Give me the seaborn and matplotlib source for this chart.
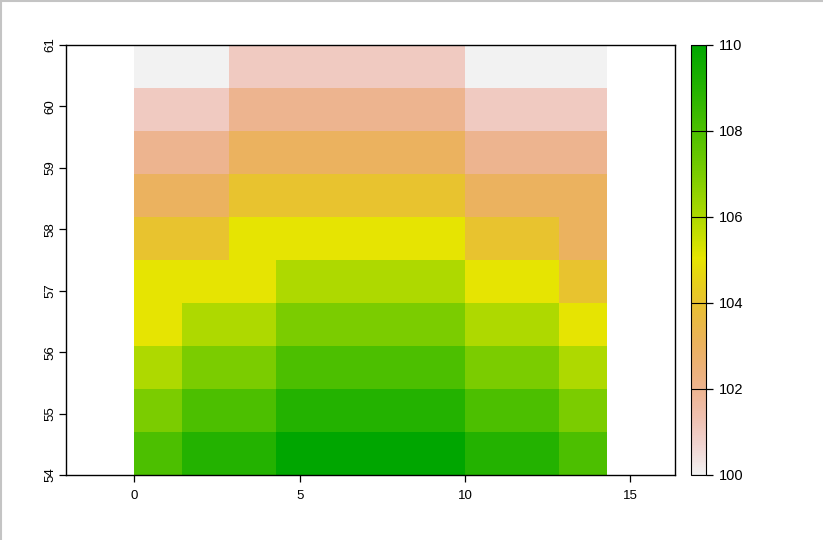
import colorsys
import numpy as np
import pandas as pd
import matplotlib
matplotlib.use("Agg")
import matplotlib.pyplot as plt
from matplotlib.colors import ListedColormap
from matplotlib.lines import Line2D
import seaborn as sns

# raster grid: 10 x 10 cells, lon 0 .. 14.29, lat 54 .. 61
x_start = 0.0
cell_w = 10 / 7
lat_top = 61.0
cell_h = 0.7

# cell values, top row (lat 60.3-61) first
values = [
    [100, 100, 101, 101, 101, 101, 101, 100, 100, 100],
    [101, 101, 102, 102, 102, 102, 102, 101, 101, 101],
    [102, 102, 103, 103, 103, 103, 103, 102, 102, 102],
    [103, 103, 104, 104, 104, 104, 104, 103, 103, 103],
    [104, 104, 105, 105, 105, 105, 105, 104, 104, 103],
    [105, 105, 105, 106, 106, 106, 106, 105, 105, 104],
    [105, 106, 106, 107, 107, 107, 107, 106, 106, 105],
    [106, 107, 107, 108, 108, 108, 108, 107, 107, 106],
    [107, 108, 108, 109, 109, 109, 109, 108, 108, 107],
    [108, 109, 109, 110, 110, 110, 110, 109, 109, 108],
]
x_ticks = [0, 5, 10, 15]
y_ticks = [54, 55, 56, 57, 58, 59, 60, 61]
cbar_ticks = [100, 102, 104, 106, 108, 110]


def terrain_colors(n):
    # same as R's terrain.colors()
    k = n // 2
    h1 = np.linspace(4 / 12, 2 / 12, k)
    s1 = np.ones(k)
    v1 = np.linspace(0.65, 0.9, k)
    h2 = np.linspace(2 / 12, 0, n - k + 1)[1:]
    s2 = np.linspace(1, 0, n - k + 1)[1:]
    v2 = np.linspace(0.9, 0.95, n - k + 1)[1:]
    h = np.concatenate([h1, h2])
    s = np.concatenate([s1, s2])
    v = np.concatenate([v1, v2])
    return [colorsys.hsv_to_rgb(a, b, c) for a, b, c in zip(h, s, v)]


cmap = ListedColormap(terrain_colors(255)[::-1])

sns.set_style("white")
plt.rcParams["font.family"] = ["Liberation Sans", "DejaVu Sans"]

df = pd.DataFrame(values)

fig = plt.figure(figsize=(8.23, 5.40), dpi=100)
W, H = 823, 540
ax = fig.add_axes([66 / W, (H - 475) / H, (675 - 66) / W, (475 - 45) / H])
cax = fig.add_axes([691 / W, (H - 475) / H, 15 / W, (475 - 45) / H])

sns.heatmap(df, ax=ax, cmap=cmap, vmin=100, vmax=110, cbar_ax=cax,
            xticklabels=False, yticklabels=False, linewidths=0)

# heatmap coords -> lon/lat
def lon2h(x):
    return (x - x_start) / cell_w

def lat2h(y):
    return (lat_top - y) / cell_h

ncol = len(values[0])
mid = ncol / 2
half = 9.21 / cell_w
ax.set_xlim(mid - half, mid + half)
ax.set_ylim(lat2h(54), lat2h(61))

ax.set_xticks([lon2h(t) for t in x_ticks])
ax.set_xticklabels([str(t) for t in x_ticks], fontsize=9.5)
ax.set_yticks([lat2h(t) for t in y_ticks])
ax.set_yticklabels([str(t) for t in y_ticks], fontsize=9.5, rotation=90, va="center")
ax.tick_params(axis="x", direction="out", length=5, width=0.9, pad=6, colors="black", bottom=True)
ax.tick_params(axis="y", direction="out", length=5, width=0.9, pad=2, colors="black", left=True)
for sp in ax.spines.values():
    sp.set_visible(True)
    sp.set_color("black")
    sp.set_linewidth(1.0)
ax.set_xlabel("")
ax.set_ylabel("")

cbar = ax.collections[0].colorbar
cbar.set_ticks(cbar_ticks)
cbar.set_ticklabels([str(t) for t in cbar_ticks])
cbar.outline.set_visible(True)
cbar.outline.set_edgecolor("black")
cbar.outline.set_linewidth(0.8)
cax.tick_params(direction="out", length=5, width=0.9, pad=4, labelsize=10.5, colors="black", right=True)
for t in cbar_ticks:
    cax.axhline(t, color="black", lw=0.8)

# screenshot frame on top and left
fig.add_artist(Line2D([0, 1], [1 - 0.5 / H, 1 - 0.5 / H], transform=fig.transFigure, color="#c4c4c4", lw=1.5))
fig.add_artist(Line2D([0.5 / W, 0.5 / W], [0, 1], transform=fig.transFigure, color="#c4c4c4", lw=1.5))

fig.savefig("out.png", dpi=100)
